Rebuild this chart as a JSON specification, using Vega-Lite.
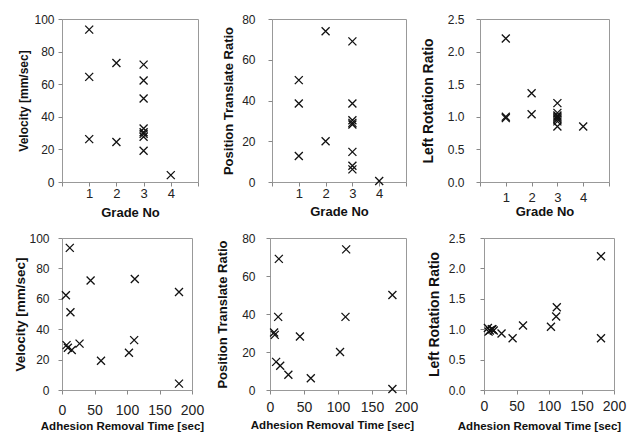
{
  "$schema": "https://vega.github.io/schema/vega-lite/v6.json",
  "background": "white",
  "padding": {"left": 12, "top": 12, "right": 5, "bottom": 5},
  "datasets": {
    "pts": [
      {"grade": 1, "time": 180, "velocity": 64.5, "position": 50, "rotation": 2.2},
      {"grade": 1, "time": 12, "velocity": 93.5, "position": 38.5, "rotation": 1.0},
      {"grade": 1, "time": 15, "velocity": 26.3, "position": 12.8, "rotation": 0.98},
      {"grade": 2, "time": 112, "velocity": 73, "position": 74, "rotation": 1.36},
      {"grade": 2, "time": 103, "velocity": 24.5, "position": 20, "rotation": 1.04},
      {"grade": 3, "time": 44, "velocity": 72, "position": 28.2, "rotation": 0.85},
      {"grade": 3, "time": 6, "velocity": 62.3, "position": 30.3, "rotation": 1.02},
      {"grade": 3, "time": 13, "velocity": 51.2, "position": 69, "rotation": 1.0},
      {"grade": 3, "time": 111, "velocity": 32.8, "position": 38.5, "rotation": 1.21},
      {"grade": 3, "time": 27, "velocity": 30.5, "position": 8, "rotation": 0.93},
      {"grade": 3, "time": 9, "velocity": 27.8, "position": 14.8, "rotation": 0.98},
      {"grade": 3, "time": 7, "velocity": 29.5, "position": 29, "rotation": 0.96},
      {"grade": 3, "time": 60, "velocity": 19.2, "position": 6.2, "rotation": 1.06},
      {"grade": 4, "time": 180, "velocity": 4.2, "position": 0.5, "rotation": 0.85}
    ]
  },
  "config": {
    "view": {"stroke": "#999999", "strokeWidth": 1},
    "axis": {
      "grid": false, "domain": false, "tickColor": "#888888", "tickSize": 4,
      "labelFont": "Liberation Sans", "titleFont": "Liberation Sans",
      "labelColor": "#222222", "titleColor": "#111111", "titleFontWeight": "bold",
      "labelFlush": false, "labelOverlap": false, "titleBaseline": "middle"
    },
    "point": {"shape": "M-1,-1L1,1M-1,1L1,-1", "size": 64, "strokeWidth": 1.3, "color": "#111111", "filled": false, "opacity": 1}
  },
  "spacing": 11,
  "vconcat": [
    {
      "bounds": "flush",
      "spacing": 74,
      "hconcat": [
        {
          "width": 136, "height": 163,
          "data": {"name": "pts"},
          "mark": {"type": "point"},
          "encoding": {
            "x": {"field": "grade", "type": "quantitative", "scale": {"domain": [0, 5], "nice": false},
              "axis": {"values": [0, 1, 2, 3, 4, 5], "labelExpr": "datum.value >= 1 && datum.value <= 4 ? datum.label : ''", "title": "Grade No", "titleFontSize": 13, "labelFontSize": 13, "labelPadding": 1, "titleY": 30}},
            "y": {"field": "velocity", "type": "quantitative", "scale": {"domain": [0, 100], "nice": false},
              "axis": {"values": [0, 20, 40, 60, 80, 100], "title": "Velocity [mm/sec]", "labelFontSize": 12, "labelPadding": 4, "titleFontSize": 12, "titleX": -39}}
          }
        },
        {
          "width": 134, "height": 163,
          "data": {"name": "pts"},
          "mark": {"type": "point"},
          "encoding": {
            "x": {"field": "grade", "type": "quantitative", "scale": {"domain": [0, 5], "nice": false},
              "axis": {"values": [0, 1, 2, 3, 4, 5], "labelExpr": "datum.value >= 1 && datum.value <= 4 ? datum.label : ''", "title": "Grade No", "titleFontSize": 13, "labelFontSize": 13, "labelPadding": 1, "titleY": 29}},
            "y": {"field": "position", "type": "quantitative", "scale": {"domain": [0, 80], "nice": false},
              "axis": {"values": [0, 20, 40, 60, 80], "title": "Position Translate Ratio", "labelFontSize": 12, "labelPadding": 13, "titleFontSize": 13, "titleX": -44}}
          }
        },
        {
          "width": 129, "height": 163,
          "data": {"name": "pts"},
          "mark": {"type": "point"},
          "encoding": {
            "x": {"field": "grade", "type": "quantitative", "scale": {"domain": [0, 5], "nice": false},
              "axis": {"values": [0, 1, 2, 3, 4, 5], "labelExpr": "datum.value >= 1 && datum.value <= 4 ? datum.label : ''", "title": "Grade No", "titleFontSize": 13, "labelFontSize": 13, "labelPadding": 5, "titleY": 29}},
            "y": {"field": "rotation", "type": "quantitative", "scale": {"domain": [0, 2.5], "nice": false},
              "axis": {"values": [0, 0.5, 1, 1.5, 2, 2.5], "format": ".1f", "title": "Left Rotation Ratio", "labelFontSize": 12, "labelPadding": 12, "titleFontSize": 14, "titleX": -52}}
          }
        }
      ]
    },
    {
      "bounds": "flush",
      "spacing": 78,
      "hconcat": [
        {
          "width": 130, "height": 152,
          "data": {"name": "pts"},
          "mark": {"type": "point"},
          "encoding": {
            "x": {"field": "time", "type": "quantitative", "scale": {"domain": [0, 200], "nice": false},
              "axis": {"values": [0, 50, 100, 150, 200], "title": "Adhesion Removal Time [sec]", "titleFontSize": 11.5, "labelFontSize": 14, "labelPadding": 9, "titleY": 36, "titleX": 60, "titleAlign": "center"}},
            "y": {"field": "velocity", "type": "quantitative", "scale": {"domain": [0, 100], "nice": false},
              "axis": {"values": [0, 20, 40, 60, 80, 100], "title": "Velocity [mm/sec]", "labelFontSize": 12, "labelPadding": 9, "titleFontSize": 13.5, "titleX": -42}}
          }
        },
        {
          "width": 136, "height": 152,
          "data": {"name": "pts"},
          "mark": {"type": "point"},
          "encoding": {
            "x": {"field": "time", "type": "quantitative", "scale": {"domain": [0, 200], "nice": false},
              "axis": {"values": [0, 50, 100, 150, 200], "title": "Adhesion Removal Time [sec]", "titleFontSize": 11.5, "labelFontSize": 14, "labelPadding": 6, "titleY": 35, "titleX": 62, "titleAlign": "center"}},
            "y": {"field": "position", "type": "quantitative", "scale": {"domain": [0, 80], "nice": false},
              "axis": {"values": [0, 20, 40, 60, 80], "title": "Position Translate Ratio", "labelFontSize": 12, "labelPadding": 11, "titleFontSize": 13, "titleX": -48}}
          }
        },
        {
          "width": 130, "height": 152,
          "data": {"name": "pts"},
          "mark": {"type": "point"},
          "encoding": {
            "x": {"field": "time", "type": "quantitative", "scale": {"domain": [0, 200], "nice": false},
              "axis": {"values": [0, 50, 100, 150, 200], "title": "Adhesion Removal Time [sec]", "titleFontSize": 11.5, "labelFontSize": 14, "labelPadding": 5, "titleY": 36, "titleX": 55, "titleAlign": "center"}},
            "y": {"field": "rotation", "type": "quantitative", "scale": {"domain": [0, 2.5], "nice": false},
              "axis": {"values": [0, 0.5, 1, 1.5, 2, 2.5], "format": ".1f", "title": "Left Rotation Ratio", "labelFontSize": 12, "labelPadding": 15, "titleFontSize": 14, "titleX": -50}}
          }
        }
      ]
    }
  ]
}
